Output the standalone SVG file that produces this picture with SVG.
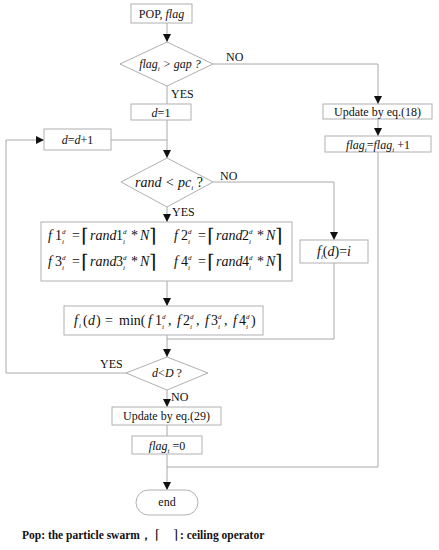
<svg xmlns="http://www.w3.org/2000/svg" width="439" height="550" viewBox="0 0 439 550">
<style>
.box{fill:#fff;stroke:#b0b0b0;stroke-width:1}
.ln{fill:none;stroke:#a8a8a8;stroke-width:1}
.t{font-family:"Liberation Serif","Times New Roman",serif;font-size:12px;fill:#111}
.c{text-anchor:middle}
.i{font-style:italic}
.f{font-family:"Liberation Serif","Times New Roman",serif;font-size:14px;font-style:italic;fill:#111}
.s{font-size:7px}
.r{font-style:normal}
.k{font-style:normal;font-size:19px;font-family:"DejaVu Serif",serif;font-weight:200}
.b{font-family:"Liberation Serif","Times New Roman",serif;font-size:11.5px;font-weight:bold;fill:#111}
.kb{font-family:"DejaVu Serif",serif;font-weight:normal;font-size:13px}
</style>
<defs>
<marker id="ah" viewBox="0 0 8 8" refX="8" refY="4" markerWidth="8" markerHeight="8" orient="auto" markerUnits="userSpaceOnUse">
<path d="M0,0 L8,4 L0,8 z" fill="#111"/>
</marker>
</defs>
<rect width="439" height="550" fill="#fff"/>
<g id="connectors">
<path class="ln" d="M167,23 V42" marker-end="url(#ah)"/>
<path class="ln" d="M213,64 H378 V104" marker-end="url(#ah)"/>
<path class="ln" d="M378,119 V136" marker-end="url(#ah)"/>
<path class="ln" d="M167,86 V104"/>
<path class="ln" d="M167,120 V158" marker-end="url(#ah)"/>
<path class="ln" d="M111,140 H167"/>
<path class="ln" d="M213,182 H334 V240" marker-end="url(#ah)"/>
<path class="ln" d="M167,207 V222" marker-end="url(#ah)"/>
<path class="ln" d="M167,281 V306" marker-end="url(#ah)"/>
<path class="ln" d="M334,263 V339 H167"/>
<path class="ln" d="M167,335 V357" marker-end="url(#ah)"/>
<path class="ln" d="M126,373 H6 V140 H44" marker-end="url(#ah)"/>
<path class="ln" d="M167,390 V407" marker-end="url(#ah)"/>
<path class="ln" d="M167,425 V436"/>
<path class="ln" d="M378,152 V467 H167"/>
<path class="ln" d="M167,454 V490" marker-end="url(#ah)"/>
</g>
<g id="pop">
<rect class="box" x="131" y="4" width="61" height="19"/>
<text class="t c" x="161.5" y="18">POP, <tspan class="i">flag</tspan></text>
</g>
<g id="dec-gap">
<polygon class="box" points="167,42 213,64 167,86 120,64"/>
<text class="t c i" x="170" y="68" font-size="13">flag<tspan class="s" baseline-shift="-3">i</tspan> &gt; gap ?</text>
<text class="t" x="226" y="61">NO</text>
<text class="t" x="171" y="98">YES</text>
</g>
<g id="upd18">
<rect class="box" x="323" y="104" width="109" height="15"/>
<text class="t c" x="377.5" y="116">Update by eq.(18)</text>
</g>
<g id="flaginc">
<rect class="box" x="325" y="136" width="106" height="16"/>
<text class="t c" x="378" y="148.5" font-size="13"><tspan class="i">flag</tspan><tspan class="s i" baseline-shift="-3">i</tspan>=<tspan class="i">flag</tspan><tspan class="s i" baseline-shift="-3">i</tspan> +1</text>
</g>
<g id="d1">
<rect class="box" x="131" y="104" width="60" height="16"/>
<text class="t c" x="161" y="116.5"><tspan class="i">d</tspan>=1</text>
</g>
<g id="dinc">
<rect class="box" x="44" y="129" width="67" height="21"/>
<text class="t c" x="77.5" y="144"><tspan class="i">d</tspan>=<tspan class="i">d</tspan>+1</text>
</g>
<g id="dec-rand">
<polygon class="box" points="167,158 213,182 167,207 121,182"/>
<text class="f c" x="169" y="187" font-size="14.5">rand &lt; pc<tspan class="s" baseline-shift="-3">i</tspan><tspan class="r"> ?</tspan></text>
<text class="t" x="220" y="180">NO</text>
<text class="t" x="172" y="216">YES</text>
</g>
<g id="formulas">
<rect class="box" x="41" y="222" width="251" height="59"/>
<text class="f" y="240"><tspan x="48">f</tspan><tspan class="r" x="55">1</tspan><tspan class="s" x="62" baseline-shift="6">d</tspan><tspan class="s" x="62" baseline-shift="-4">i</tspan><tspan class="r" x="72">=</tspan><tspan class="k" x="81" dy="2">⌈</tspan><tspan x="90" dy="-2">rand</tspan><tspan class="r" x="116">1</tspan><tspan class="s" x="123" baseline-shift="6">d</tspan><tspan class="s" x="123" baseline-shift="-4">i</tspan><tspan class="r" x="131">*</tspan><tspan x="140">N</tspan><tspan class="k" x="149" dy="2">⌉</tspan></text>
<text class="f" y="240"><tspan x="174">f</tspan><tspan class="r" x="181">2</tspan><tspan class="s" x="188" baseline-shift="6">d</tspan><tspan class="s" x="188" baseline-shift="-4">i</tspan><tspan class="r" x="198">=</tspan><tspan class="k" x="207" dy="2">⌈</tspan><tspan x="216" dy="-2">rand</tspan><tspan class="r" x="242">2</tspan><tspan class="s" x="249" baseline-shift="6">d</tspan><tspan class="s" x="249" baseline-shift="-4">i</tspan><tspan class="r" x="257">*</tspan><tspan x="266">N</tspan><tspan class="k" x="275" dy="2">⌉</tspan></text>
<text class="f" y="266"><tspan x="48">f</tspan><tspan class="r" x="55">3</tspan><tspan class="s" x="62" baseline-shift="6">d</tspan><tspan class="s" x="62" baseline-shift="-4">i</tspan><tspan class="r" x="72">=</tspan><tspan class="k" x="81" dy="2">⌈</tspan><tspan x="90" dy="-2">rand</tspan><tspan class="r" x="116">3</tspan><tspan class="s" x="123" baseline-shift="6">d</tspan><tspan class="s" x="123" baseline-shift="-4">i</tspan><tspan class="r" x="131">*</tspan><tspan x="140">N</tspan><tspan class="k" x="149" dy="2">⌉</tspan></text>
<text class="f" y="266"><tspan x="174">f</tspan><tspan class="r" x="181">4</tspan><tspan class="s" x="188" baseline-shift="6">d</tspan><tspan class="s" x="188" baseline-shift="-4">i</tspan><tspan class="r" x="198">=</tspan><tspan class="k" x="207" dy="2">⌈</tspan><tspan x="216" dy="-2">rand</tspan><tspan class="r" x="242">4</tspan><tspan class="s" x="249" baseline-shift="6">d</tspan><tspan class="s" x="249" baseline-shift="-4">i</tspan><tspan class="r" x="257">*</tspan><tspan x="266">N</tspan><tspan class="k" x="275" dy="2">⌉</tspan></text>
</g>
<g id="fi">
<rect class="box" x="300" y="240" width="68" height="23"/>
<text class="f c" x="334" y="256">f<tspan class="s" baseline-shift="-3">i</tspan><tspan class="r">(</tspan>d<tspan class="r">)=</tspan>i</text>
</g>
<g id="minbox">
<rect class="box" x="64" y="306" width="199" height="29"/>
<text class="f" y="325"><tspan x="74">f</tspan><tspan class="s" x="79" baseline-shift="-3">i</tspan><tspan class="r" x="83">(</tspan><tspan x="88">d</tspan><tspan class="r" x="96">)</tspan><tspan class="r" x="105">=</tspan><tspan class="r" x="119">min(</tspan><tspan x="148">f</tspan><tspan class="r" x="155">1</tspan><tspan class="s" x="162" baseline-shift="6">d</tspan><tspan class="s" x="162" baseline-shift="-4">i</tspan><tspan class="r" x="168">,</tspan><tspan x="177">f</tspan><tspan class="r" x="183">2</tspan><tspan class="s" x="190" baseline-shift="6">d</tspan><tspan class="s" x="190" baseline-shift="-4">i</tspan><tspan class="r" x="196">,</tspan><tspan x="205">f</tspan><tspan class="r" x="211">3</tspan><tspan class="s" x="218" baseline-shift="6">d</tspan><tspan class="s" x="218" baseline-shift="-4">i</tspan><tspan class="r" x="224">,</tspan><tspan x="233">f</tspan><tspan class="r" x="239">4</tspan><tspan class="s" x="246" baseline-shift="6">d</tspan><tspan class="s" x="246" baseline-shift="-4">i</tspan><tspan class="r" x="251">)</tspan></text>
</g>
<g id="dec-d">
<polygon class="box" points="167,357 208,373 167,390 126,373"/>
<text class="t c" x="167" y="377"><tspan class="i">d</tspan>&lt;<tspan class="i">D</tspan> ?</text>
<text class="t" x="100" y="368">YES</text>
<text class="t" x="171" y="401">NO</text>
</g>
<g id="upd29">
<rect class="box" x="112" y="407" width="109" height="18"/>
<text class="t c" x="166.5" y="420">Update by eq.(29)</text>
</g>
<g id="flag0">
<rect class="box" x="132" y="436" width="70" height="18"/>
<text class="t c" x="167" y="450" font-size="13"><tspan class="i">flag</tspan><tspan class="s i" baseline-shift="-3">i</tspan> =0</text>
</g>
<g id="end">
<rect class="box" x="136" y="490" width="62" height="25" rx="12.5"/>
<text class="t c" x="167" y="506">end</text>
</g>
<text class="b" y="539"><tspan x="22">Pop: the particle swarm，</tspan><tspan class="kb" x="155">⌈</tspan><tspan class="kb" x="173">⌉</tspan><tspan x="180">: ceiling operator</tspan></text>
</svg>
